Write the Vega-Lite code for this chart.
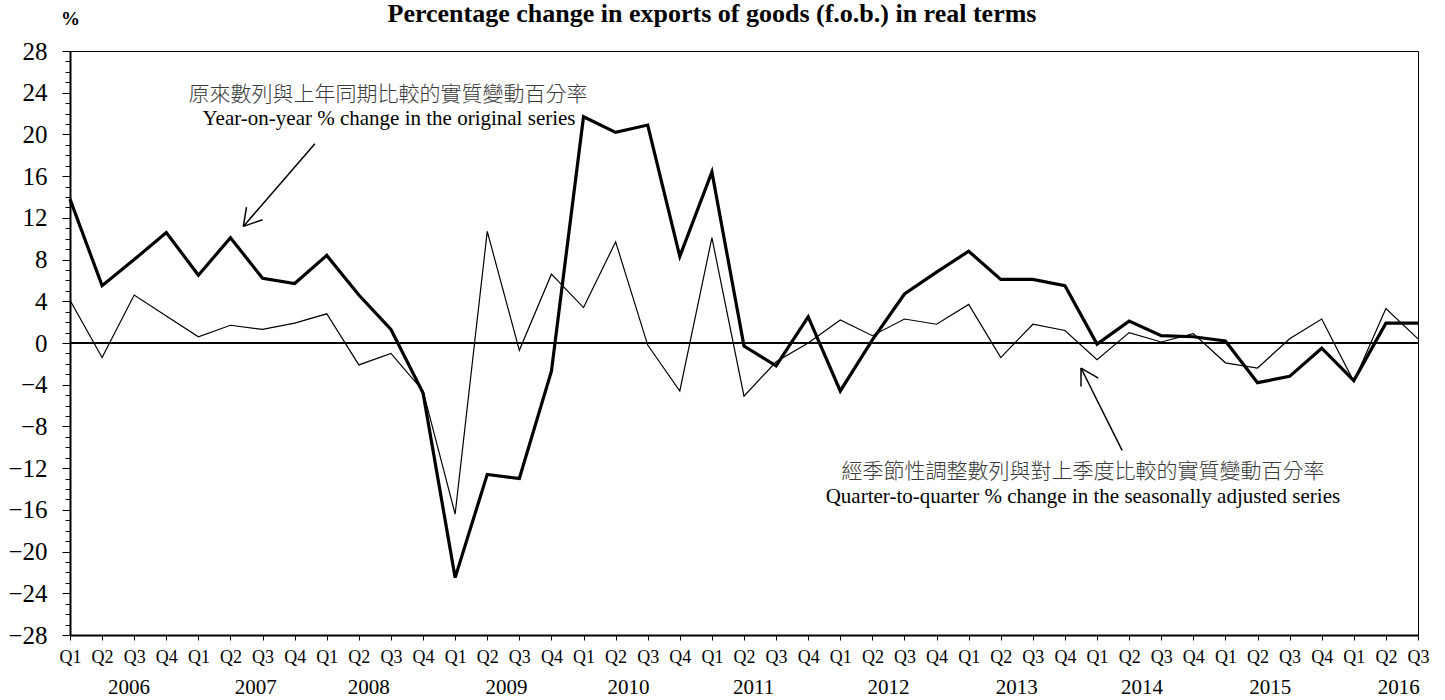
{
  "$schema": "https://vega.github.io/schema/vega-lite/v6.json",
  "width": 1348,
  "height": 584,
  "autosize": "none",
  "padding": {"left": 70, "top": 51, "right": 27, "bottom": 65},
  "background": "white",
  "config": {
    "view": {"stroke": "black", "strokeWidth": 1},
    "font": "Liberation Serif",
    "axis": {
      "grid": false,
      "domainColor": "black",
      "tickColor": "black",
      "labelColor": "black",
      "labelFont": "Liberation Serif",
      "labelOverlap": false,
      "labelFlush": false,
      "labelBound": false
    }
  },
  "title": {
    "text": "Percentage change in exports of goods (f.o.b.) in real terms",
    "font": "Liberation Serif",
    "fontSize": 26,
    "fontWeight": "bold",
    "color": "black",
    "anchor": "middle",
    "frame": "group",
    "dx": -32,
    "offset": -18
  },
  "datasets": {
    "series": [
      {"i": 0, "q": "2006 Q1", "yoy": 13.8, "qoq": 4.1},
      {"i": 1, "q": "2006 Q2", "yoy": 5.5, "qoq": -1.4},
      {"i": 2, "q": "2006 Q3", "yoy": 8.0, "qoq": 4.6},
      {"i": 3, "q": "2006 Q4", "yoy": 10.6, "qoq": 2.6},
      {"i": 4, "q": "2007 Q1", "yoy": 6.5, "qoq": 0.6},
      {"i": 5, "q": "2007 Q2", "yoy": 10.1, "qoq": 1.7},
      {"i": 6, "q": "2007 Q3", "yoy": 6.2, "qoq": 1.3},
      {"i": 7, "q": "2007 Q4", "yoy": 5.7, "qoq": 1.9},
      {"i": 8, "q": "2008 Q1", "yoy": 8.4, "qoq": 2.8},
      {"i": 9, "q": "2008 Q2", "yoy": 4.6, "qoq": -2.1},
      {"i": 10, "q": "2008 Q3", "yoy": 1.3, "qoq": -1.0},
      {"i": 11, "q": "2008 Q4", "yoy": -4.8, "qoq": -4.6},
      {"i": 12, "q": "2009 Q1", "yoy": -22.5, "qoq": -16.4},
      {"i": 13, "q": "2009 Q2", "yoy": -12.6, "qoq": 10.7},
      {"i": 14, "q": "2009 Q3", "yoy": -13.0, "qoq": -0.7},
      {"i": 15, "q": "2009 Q4", "yoy": -2.7, "qoq": 6.6},
      {"i": 16, "q": "2010 Q1", "yoy": 21.7, "qoq": 3.4},
      {"i": 17, "q": "2010 Q2", "yoy": 20.2, "qoq": 9.7},
      {"i": 18, "q": "2010 Q3", "yoy": 20.9, "qoq": -0.2},
      {"i": 19, "q": "2010 Q4", "yoy": 8.3, "qoq": -4.6},
      {"i": 20, "q": "2011 Q1", "yoy": 16.4, "qoq": 10.1},
      {"i": 21, "q": "2011 Q2", "yoy": -0.3, "qoq": -5.1},
      {"i": 22, "q": "2011 Q3", "yoy": -2.2, "qoq": -1.8},
      {"i": 23, "q": "2011 Q4", "yoy": 2.5, "qoq": 0.0},
      {"i": 24, "q": "2012 Q1", "yoy": -4.6, "qoq": 2.2},
      {"i": 25, "q": "2012 Q2", "yoy": 0.3, "qoq": 0.7},
      {"i": 26, "q": "2012 Q3", "yoy": 4.7, "qoq": 2.3},
      {"i": 27, "q": "2012 Q4", "yoy": 6.8, "qoq": 1.8},
      {"i": 28, "q": "2013 Q1", "yoy": 8.8, "qoq": 3.7},
      {"i": 29, "q": "2013 Q2", "yoy": 6.1, "qoq": -1.4},
      {"i": 30, "q": "2013 Q3", "yoy": 6.1, "qoq": 1.8},
      {"i": 31, "q": "2013 Q4", "yoy": 5.5, "qoq": 1.2},
      {"i": 32, "q": "2014 Q1", "yoy": -0.1, "qoq": -1.6},
      {"i": 33, "q": "2014 Q2", "yoy": 2.1, "qoq": 1.0},
      {"i": 34, "q": "2014 Q3", "yoy": 0.7, "qoq": 0.1},
      {"i": 35, "q": "2014 Q4", "yoy": 0.6, "qoq": 0.9},
      {"i": 36, "q": "2015 Q1", "yoy": 0.2, "qoq": -1.9},
      {"i": 37, "q": "2015 Q2", "yoy": -3.8, "qoq": -2.4},
      {"i": 38, "q": "2015 Q3", "yoy": -3.2, "qoq": 0.4},
      {"i": 39, "q": "2015 Q4", "yoy": -0.5, "qoq": 2.3},
      {"i": 40, "q": "2016 Q1", "yoy": -3.6, "qoq": -3.7},
      {"i": 41, "q": "2016 Q2", "yoy": 1.9, "qoq": 3.3},
      {"i": 42, "q": "2016 Q3", "yoy": 1.9, "qoq": 0.4}
    ],
    "years": [
      {"pos": 1.84, "year": "2006"},
      {"pos": 5.79, "year": "2007"},
      {"pos": 9.31, "year": "2008"},
      {"pos": 13.6, "year": "2009"},
      {"pos": 17.4, "year": "2010"},
      {"pos": 21.3, "year": "2011"},
      {"pos": 25.5, "year": "2012"},
      {"pos": 29.5, "year": "2013"},
      {"pos": 33.4, "year": "2014"},
      {"pos": 37.4, "year": "2015"},
      {"pos": 41.4, "year": "2016"}
    ],
    "notesZh": [
      {"x": 9.91, "y": 23.8, "t": "原來數列與上年同期比較的實質變動百分率"},
      {"x": 31.56, "y": -12.4, "t": "經季節性調整數列與對上季度比較的實質變動百分率"}
    ],
    "notesEn": [
      {"x": 9.94, "y": 21.5, "t": "Year-on-year % change in the original series"},
      {"x": 31.56, "y": -14.8, "t": "Quarter-to-quarter % change in the seasonally adjusted series"}
    ],
    "arrows": [
      {"x": 7.63, "y": 19.1, "x2": 5.40, "y2": 11.18},
      {"x": 5.40, "y": 11.18, "x2": 5.50, "y2": 13.04},
      {"x": 5.40, "y": 11.18, "x2": 6.00, "y2": 11.82},
      {"x": 32.78, "y": -10.30, "x2": 31.50, "y2": -2.40},
      {"x": 31.50, "y": -2.40, "x2": 31.50, "y2": -4.16},
      {"x": 31.50, "y": -2.40, "x2": 32.04, "y2": -3.36}
    ]
  },
  "layer": [
    {
      "data": {"name": "series"},
      "mark": {"type": "line", "color": "black", "strokeWidth": 1.2},
      "encoding": {
        "x": {
          "field": "i", "type": "quantitative",
          "scale": {"domain": [0, 42], "nice": false, "zero": false},
          "axis": {
            "orient": "bottom",
            "title": null,
            "values": [0,1,2,3,4,5,6,7,8,9,10,11,12,13,14,15,16,17,18,19,20,21,22,23,24,25,26,27,28,29,30,31,32,33,34,35,36,37,38,39,40,41,42],
            "labelExpr": "['Q1','Q2','Q3','Q4'][datum.value % 4]",
            "labelOverlap": false,
            "labelFont": "Liberation Serif",
            "labelFontSize": 18,
            "labelAngle": 0,
            "labelPadding": 8,
            "tickSize": 5,
            "tickWidth": 1,
            "domainWidth": 2
          }
        },
        "y": {
          "field": "qoq", "type": "quantitative",
          "scale": {"domain": [-28, 28], "nice": false, "zero": false},
          "axis": {
            "orient": "left",
            "values": [-28,-24,-20,-16,-12,-8,-4,0,4,8,12,16,20,24,28],
            "labelOverlap": false,
            "labelFont": "Liberation Serif",
            "labelFontSize": 25,
            "labelPadding": 15,
            "tickSize": 8,
            "tickWidth": 1,
            "domainWidth": 2,
            "title": "%", "titleAngle": 0, "titleX": 0, "titleY": -33,
            "titleAlign": "center", "titleBaseline": "middle",
            "titleFont": "Liberation Serif", "titleFontSize": 19, "titleFontWeight": "bold", "titleColor": "black"
          }
        }
      }
    },
    {
      "data": {"name": "series"},
      "mark": {"type": "line", "color": "black", "strokeWidth": 3.2, "strokeJoin": "miter"},
      "encoding": {
        "x": {"field": "i", "type": "quantitative", "axis": null},
        "y": {"field": "yoy", "type": "quantitative", "axis": null}
      }
    },
    {
      "data": {"values": [{"v": 0}]},
      "mark": {"type": "rule", "color": "black", "strokeWidth": 2},
      "encoding": {
        "y": {"field": "v", "type": "quantitative", "axis": null}
      }
    },
    {
      "data": {"values": [{"v": 0}]},
      "mark": {"type": "rule", "opacity": 0},
      "encoding": {
        "y": {
          "field": "v", "type": "quantitative",
          "axis": {
            "orient": "left",
            "values": [-28,-27,-26,-25,-24,-23,-22,-21,-20,-19,-18,-17,-16,-15,-14,-13,-12,-11,-10,-9,-8,-7,-6,-5,-4,-3,-2,-1,0,1,2,3,4,5,6,7,8,9,10,11,12,13,14,15,16,17,18,19,20,21,22,23,24,25,26,27,28],
            "labels": false, "domain": false, "title": null,
            "tickSize": 5, "tickWidth": 1
          }
        }
      }
    },
    {
      "data": {"name": "arrows"},
      "mark": {"type": "rule", "color": "black", "strokeWidth": 1.5},
      "encoding": {
        "x": {"field": "x", "type": "quantitative", "axis": null},
        "y": {"field": "y", "type": "quantitative", "axis": null},
        "x2": {"field": "x2"},
        "y2": {"field": "y2"}
      }
    },
    {
      "data": {"name": "notesZh"},
      "mark": {"type": "text", "font": "Noto Sans CJK TC", "fontSize": 21, "fontWeight": 300, "color": "#3a3a3a", "align": "center", "baseline": "middle"},
      "encoding": {
        "x": {"field": "x", "type": "quantitative", "axis": null},
        "y": {"field": "y", "type": "quantitative", "axis": null},
        "text": {"field": "t"}
      }
    },
    {
      "data": {"name": "notesEn"},
      "mark": {"type": "text", "font": "Liberation Serif", "fontSize": 21, "color": "black", "align": "center", "baseline": "middle"},
      "encoding": {
        "x": {"field": "x", "type": "quantitative", "axis": null},
        "y": {"field": "y", "type": "quantitative", "axis": null},
        "text": {"field": "t"}
      }
    },
    {
      "data": {"name": "years"},
      "mark": {"type": "text", "font": "Liberation Serif", "fontSize": 21, "color": "black", "align": "center", "baseline": "middle", "dy": 53},
      "encoding": {
        "x": {"field": "pos", "type": "quantitative", "axis": null},
        "y": {"datum": -28, "type": "quantitative", "axis": null},
        "text": {"field": "year"}
      }
    }
  ],
  "resolve": {"axis": {"x": "independent", "y": "independent"}}
}
